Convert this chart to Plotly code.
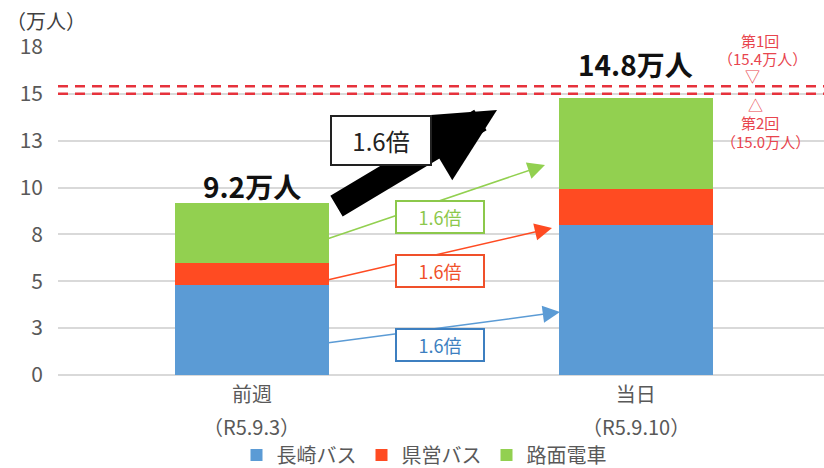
import plotly.graph_objects as go

categories = ["前週", "当日"]
dates = ["（R5.9.3）", "（R5.9.10）"]
nagasaki_bus = [4.8, 8.0]
kenei_bus = [1.2, 1.9]
romen_densha = [3.2, 4.9]
totals_text = ["9.2万人", "14.8万人"]
series_names = ["長崎バス", "県営バス", "路面電車"]
tick_vals = [0, 2.5, 5, 7.5, 10, 12.5, 15, 17.5]
tick_text = ["0", "3", "5", "8", "10", "13", "15", "18"]
targets = [15.4, 15.0]

FONT = "Noto Sans CJK JP"
BLUE, RED, GREEN = "#5b9bd5", "#ff4b22", "#92d050"
DASH = "#e6323c"
ANN = "#e8454e"

# pixel -> coordinate helpers for decorative positions
L, R, T, B = 58, 824, 47, 375
XR = (-0.505, 1.49)
def X(px):
    return XR[0] + (px - L) / (R - L) * (XR[1] - XR[0])
def Y(py):
    return (B - py) / (B - T) * 17.5
def PX(px):
    return (px - L) / (R - L)
def PY(py):
    return (B - py) / (B - T)

fig = go.Figure()
for name, vals, col in zip(series_names, [nagasaki_bus, kenei_bus, romen_densha], [BLUE, RED, GREEN]):
    fig.add_trace(go.Bar(x=categories, y=vals, name=name, marker=dict(color=col, line=dict(width=0)),
                         width=0.4))

tot = [a + b + c for a, b, c in zip(nagasaki_bus, kenei_bus, romen_densha)]
for i, (c, t) in enumerate(zip(categories, tot)):
    fig.add_annotation(x=c, y=t, text="<b>%s</b>" % totals_text[i], showarrow=False,
                       yshift=17 if i == 0 else 34, font=dict(family=FONT, size=28, color="#111111"))
    fig.add_annotation(x=c, xref="x", yref="paper", y=PY(426), yanchor="middle", text=dates[i],
                       showarrow=False, font=dict(family=FONT, size=20, color="#595959"))

for tv in targets:
    fig.add_shape(type="line", xref="paper", x0=0, x1=1, y0=tv, y1=tv,
                  line=dict(color=DASH, width=2.5, dash="10px,7px"))

# big black arrow
fig.add_annotation(x=X(497), y=Y(110), ax=X(335), ay=Y(207), xref="x", yref="y", axref="x", ayref="y",
                   showarrow=True, arrowhead=2, arrowsize=0.62, arrowwidth=24, arrowcolor="#000000", text="")
fig.add_annotation(x=X(381), y=Y(140), text="1.6倍", showarrow=False,
                   font=dict(family=FONT, size=24, color="#222222"), bgcolor="white",
                   bordercolor="#222222", borderwidth=2, borderpad=6, width=86)

# thin arrows
arrows = [((327, 239), (545, 165), GREEN, 217),
          ((327, 280), (552, 228), RED, 271),
          ((327, 343), (560, 312), BLUE, 345)]
lab_colors = {GREEN: "#8cc84b", RED: "#f0502a", BLUE: "#3d7fc0"}
for (t0, t1, col, ly) in arrows:
    fig.add_annotation(x=X(t1[0]), y=Y(t1[1]), ax=X(t0[0]), ay=Y(t0[1]), xref="x", yref="y",
                       axref="x", ayref="y", showarrow=True, arrowhead=2, arrowsize=2.3,
                       arrowwidth=1.5, arrowcolor=col, text="")
    fig.add_annotation(x=X(440), y=Y(ly), text="1.6倍", showarrow=False,
                       font=dict(family=FONT, size=18, color=lab_colors[col]), bgcolor="white",
                       bordercolor=lab_colors[col], borderwidth=2, borderpad=2, width=82)

# right annotations
right = [(760, 40, "第1回"), (762, 58, "（15.4万人）"), (752, 76, "▽"),
         (755, 104, "△"), (760, 122, "第2回"), (765, 141, "（15.0万人）")]
for px, py, txt in right:
    fig.add_annotation(xref="paper", yref="paper", x=PX(px), y=PY(py), text=txt, showarrow=False,
                       xanchor="center", yanchor="middle",
                       font=dict(family=FONT, size=15, color=ANN))

fig.add_annotation(xref="paper", yref="paper", x=PX(4), y=PY(20), xanchor="left", yanchor="middle",
                   text="（万人）", showarrow=False, font=dict(family=FONT, size=20, color="#404040"))

fig.update_layout(
    width=824, height=468, margin=dict(l=L, r=824 - R, t=T, b=468 - B, autoexpand=False),
    barmode="stack", bargap=0.6, plot_bgcolor="white", paper_bgcolor="white",
    font=dict(family=FONT, color="#595959"),
    showlegend=True,
    legend=dict(orientation="h", x=PX(424), xanchor="center", y=PY(455), yanchor="middle",
                traceorder="normal", font=dict(family=FONT, size=20, color="#595959"),
                itemwidth=30, tracegroupgap=0),
    xaxis=dict(range=list(XR), tickfont=dict(family=FONT, size=20, color="#595959"),
               showline=False, ticks="", automargin=False, ticklabelstandoff=6),
    yaxis=dict(range=[0, 17.5], tickvals=tick_vals, ticktext=tick_text,
               tickfont=dict(family=FONT, size=21, color="#595959"),
               gridcolor="#d9d9d9", gridwidth=1.5, zeroline=True, zerolinecolor="#d9d9d9",
               zerolinewidth=1.5, ticks="", ticklabelstandoff=14, automargin=False),
)

fig.write_html("out.html", config={"displayModeBar": False},
               post_script="document.body.style.margin='0';document.body.style.overflow='hidden';")
